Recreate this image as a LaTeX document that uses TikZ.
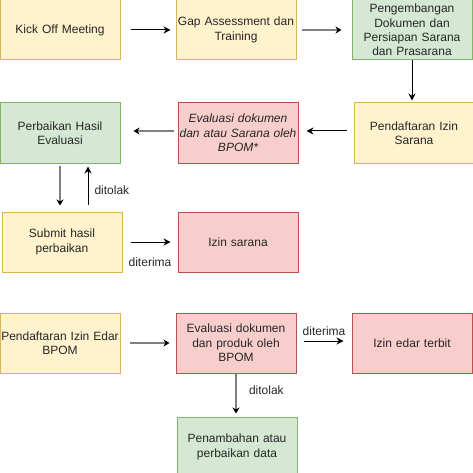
\documentclass[tikz,border=0pt]{standalone}
\usepackage{fontspec}
\setmainfont{Liberation Sans}
\usepackage{tikz}
\usetikzlibrary{arrows.meta, positioning}

\definecolor{kuningisi}{HTML}{FFF2CC}
\definecolor{kuninggaris}{HTML}{D6B656}
\definecolor{hijauisi}{HTML}{D5E8D4}
\definecolor{hijaugaris}{HTML}{82B366}
\definecolor{merahisi}{HTML}{F8CECC}
\definecolor{merahgaris}{HTML}{B85450}
\definecolor{abu}{HTML}{808080}

\begin{document}
\begin{tikzpicture}[x=1pt,y=-1pt,font=\fontsize{12pt}{14.4pt}\selectfont]
 \tikzstyle{tahap}=[rectangle,line width=1pt,minimum width=120pt,
   minimum height=60pt,text width=118pt,inner sep=1pt,align=center,
   text=black!85]
 \tikzstyle{kuning}=[tahap,draw=kuninggaris,fill=kuningisi]
 \tikzstyle{hijau}=[tahap,draw=hijaugaris,fill=hijauisi]
 \tikzstyle{merah}=[tahap,draw=merahgaris,fill=merahisi]
 \tikzstyle{panah}=[line width=1pt,-{Stealth[length=7pt,width=7pt]}]
 \tikzstyle{panahabu}=[line width=2pt,draw=abu,
   -{Stealth[black,length=6pt,width=7pt]}]
 \tikzstyle{ket}=[inner sep=1pt,text=black!85]
 \useasboundingbox (0,0) rectangle (473,473);

 % izin sarana
 \node (kick) [kuning] at (60,30) {Kick Off Meeting};
 \node (gap) [kuning,right=55pt of kick] {Gap Assessment dan\\Training};
 \node (kembang) [hijau,right=55pt of gap]
   {Pengembangan\\Dokumen dan\\Persiapan Sarana\\dan Prasarana};
 \node (sarana) [kuning,below=42pt of kembang,xshift=2pt]
   {Pendaftaran Izin\\Sarana};
 \node (evaldok) [merah,left=55pt of sarana,font=\fontsize{12pt}{14.4pt}\selectfont\itshape]
   {Evaluasi dokumen\\dan atau Sarana oleh\\BPOM*};
 \node (perbaikan) [hijau,left=57pt of evaldok] {Perbaikan Hasil\\Evaluasi};
 \node (submit) [kuning,below=48pt of perbaikan,xshift=2pt]
   {Submit hasil\\perbaikan};
 \node (izinsar) [merah,right=55pt of submit] {Izin sarana};

 \draw[panah,shorten <=10pt,shorten >=5pt] (kick) -- (gap);
 \draw[panahabu,shorten <=5pt,shorten >=10pt] (gap) -- (kembang);
 \draw[panah,shorten >=2pt] (kembang) -- (kembang |- sarana.north);
 \draw[panah,shorten <=7pt,shorten >=8pt]
   ([yshift=2pt]sarana.west) -- ([yshift=2pt]evaldok.east);
 \draw[panahabu,shorten <=4pt,shorten >=13pt]
   ([yshift=2pt]evaldok.west) -- ([yshift=2pt]perbaikan.east);
 \draw[panahabu,shorten <=2pt,shorten >=6pt]
   (perbaikan.south) -- (perbaikan.south |- submit.north);
 \draw[panah,shorten <=7pt,shorten >=3pt]
   ([xshift=26pt]submit.north) -- node[ket,right=5pt,pos=0.45] {ditolak}
   ([xshift=26pt]submit.north |- perbaikan.south);
 \draw[panah,shorten <=8pt,shorten >=7pt] (submit) --
   node[ket,below=14pt] {diterima} (izinsar);

 % izin edar
 \node (edar) [kuning,below=40pt of submit,xshift=-2pt]
   {Pendaftaran Izin Edar\\BPOM};
 \node (evalprod) [merah,right=55pt of edar]
   {Evaluasi dokumen\\dan produk oleh\\BPOM};
 \node (izinedar) [merah,right=55pt of evalprod] {Izin edar terbit};
 \node (tambah) [hijau,below=43pt of evalprod,xshift=1pt]
   {Penambahan atau\\perbaikan data};

 \draw[panahabu,shorten <=9pt,shorten >=6pt] (edar) -- (evalprod);
 \draw[panah,shorten <=7pt,shorten >=8pt]
   ([yshift=2pt]evalprod.east) -- node[ket,above=4pt] {diterima}
   ([yshift=2pt]izinedar.west);
 \draw[panahabu,shorten >=3pt] (evalprod) --
   node[ket,right=11pt,pos=0.4] {ditolak} (evalprod |- tambah.north);
\end{tikzpicture}
\end{document}
